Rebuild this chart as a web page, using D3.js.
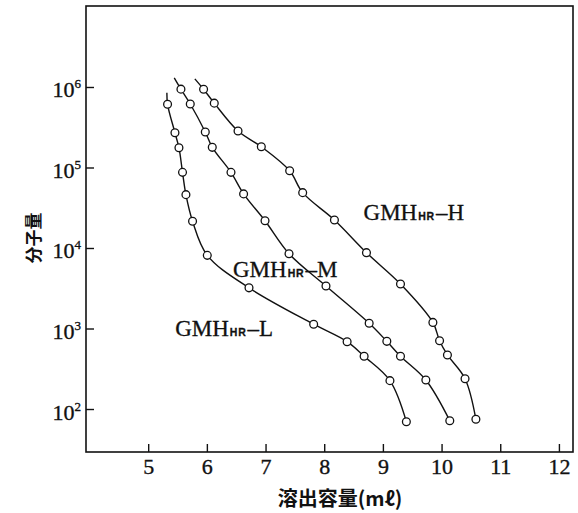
<!DOCTYPE html>
<html>
<head>
<meta charset="utf-8">
<script src="https://cdn.jsdelivr.net/npm/d3@7"></script>
<style>
  body { margin: 0; background: #fff; }
  text { fill: #111; }
</style>
</head>
<body>
<div id="chart"></div>
<script>
// elution volume (ml) and molecular weight
var columns = ["L", "M", "H"];
var volL = [5.33, 5.456, 5.524, 5.585, 5.643, 5.756, 6.007, 6.718, 7.82, 8.39, 8.68, 9.12, 9.40];
var mwL  = [6.1e5, 2.7e5, 1.76e5, 8.7e4, 4.6e4, 2.15e4, 8.1e3, 3.2e3, 1130, 686, 452, 225, 69.5];
var volM = [5.558, 5.717, 5.973, 6.092, 6.411, 6.626, 6.991, 7.40, 8.03, 8.766, 9.067, 9.30, 9.732, 10.14];
var mwM  = [9.4e5, 6.15e5, 2.76e5, 1.78e5, 8.7e4, 4.7e4, 2.18e4, 8.5e3, 3.37e3, 1160, 693, 452, 229, 71.6];
var volH = [5.944, 6.126, 6.531, 6.928, 7.411, 7.633, 8.174, 8.72, 9.30, 9.852, 9.966, 10.10, 10.40, 10.585];
var mwH  = [9.36e5, 6.3e5, 2.84e5, 1.81e5, 9.1e4, 4.87e4, 2.23e4, 8.75e3, 3.57e3, 1190, 705, 469, 238, 74.5];
// top end of each drawn curve (line only, no marker)
var tailVol = [5.319, 5.444, 5.795];
var tailMw  = [8.5e5, 1.3e6, 1.26e6];
// label anchor (start of "GMH") in data units
var labelVol = [5.46, 6.445, 8.67];
var labelMw  = [807, 4400, 22300];

var xTicks = [5, 6, 7, 8, 9, 10, 11, 12];
var yTicks = [1e2, 1e3, 1e4, 1e5, 1e6];

var margin = {top: 6, right: 5, bottom: 61, left: 86},
    totalWidth = 578,
    totalHeight = 513,
    width = totalWidth - margin.left - margin.right,
    height = totalHeight - margin.top - margin.bottom;

var svg = d3.select("#chart").append("svg")
    .attr("width", totalWidth)
    .attr("height", totalHeight)
  .append("g")
    .attr("transform", "translate(" + margin.left + "," + margin.top + ")");

var x = d3.scaleLinear().domain([3.94, 12.24]).range([0, width]);
var y = d3.scaleLog().domain([Math.pow(10, 1.466), Math.pow(10, 7.006)]).range([height, 0]);

// frame
svg.append("rect")
    .attr("width", width).attr("height", height)
    .attr("fill", "none").attr("stroke", "#111").attr("stroke-width", 1.6);

// bottom axis, ticks point inward
var xAxis = svg.append("g")
    .attr("transform", "translate(0," + height + ")")
    .call(d3.axisBottom(x).tickValues(xTicks).tickSizeInner(-8).tickSizeOuter(0).tickFormat(d3.format("d")));
xAxis.select(".domain").remove();
xAxis.selectAll("line").attr("stroke", "#111").attr("stroke-width", 1.4);
xAxis.selectAll("text")
    .attr("y", 22)
    .attr("dy", 0)
    .style("font-family", "'Liberation Serif', serif")
    .style("font-size", "22px")
    .attr("fill", "#111")
    .attr("stroke", "#111")
    .attr("stroke-width", 0.35);

// left axis, log ticks with superscript exponents
var yAxis = svg.append("g")
    .call(d3.axisLeft(y).tickValues(yTicks).tickSizeInner(-8).tickSizeOuter(0).tickFormat(""));
yAxis.select(".domain").remove();
yAxis.selectAll("line").attr("stroke", "#111").attr("stroke-width", 1.4);
yAxis.selectAll(".tick").each(function(d) {
  var t = d3.select(this).append("text")
      .attr("x", -5)
      .attr("y", 10)
      .attr("text-anchor", "end")
      .style("font-family", "'Liberation Serif', serif")
      .style("font-size", "22px")
      .attr("fill", "#111")
      .attr("stroke", "#111")
      .attr("stroke-width", 0.35);
  t.append("tspan").text("10");
  t.append("tspan").attr("dy", -9).style("font-size", "13px").text(Math.round(Math.log10(d)));
});

// curves
var vols = [volL, volM, volH], mws = [mwL, mwM, mwH];
var line = d3.line()
    .x(function(d) { return x(d[0]); })
    .y(function(d) { return y(d[1]); })
    .curve(d3.curveCatmullRom.alpha(0.5));

columns.forEach(function(c, i) {
  var pts = vols[i].map(function(v, j) { return [v, mws[i][j]]; });
  var linePts = [[tailVol[i], tailMw[i]]].concat(pts);
  svg.append("path")
      .datum(linePts)
      .attr("d", line)
      .attr("fill", "none")
      .attr("stroke", "#111")
      .attr("stroke-width", 1.4);
  svg.append("g")
    .selectAll("circle")
    .data(pts)
    .enter()
    .append("circle")
      .attr("cx", function(d) { return x(d[0]); })
      .attr("cy", function(d) { return y(d[1]); })
      .attr("r", 3.9)
      .attr("fill", "#fff")
      .attr("stroke", "#111")
      .attr("stroke-width", 1.3);

  var lab = svg.append("text")
      .attr("x", x(labelVol[i]))
      .attr("y", y(labelMw[i]))
      .style("font-family", "'Liberation Serif', serif")
      .style("font-size", "23px")
      .attr("fill", "#111")
      .attr("stroke", "#111")
      .attr("stroke-width", 0.3);
  lab.append("tspan").text("GMH");
  lab.append("tspan")
      .attr("dx", 1)
      .style("font-family", "'Liberation Sans', sans-serif")
      .style("font-weight", "bold")
      .style("font-size", "10.5px")
      .style("letter-spacing", "0.8px")
      .text("HR");
  lab.append("tspan").attr("dx", 1).text("–" + c);
});

// axis titles
svg.append("text")
    .attr("x", 254)
    .attr("y", 500)
    .attr("text-anchor", "middle")
    .style("font-family", "'Noto Sans CJK JP', sans-serif")
    .style("font-weight", "bold")
    .style("font-size", "20px")
    .attr("fill", "#111")
    .text("溶出容量(mℓ)");

svg.append("text")
    .attr("transform", "translate(-46," + 232 + ") rotate(-90)")
    .attr("text-anchor", "middle")
    .style("font-family", "'Noto Sans CJK JP', sans-serif")
    .style("font-weight", "bold")
    .style("font-size", "17px")
    .attr("fill", "#111")
    .text("分子量");
</script>
</body>
</html>
